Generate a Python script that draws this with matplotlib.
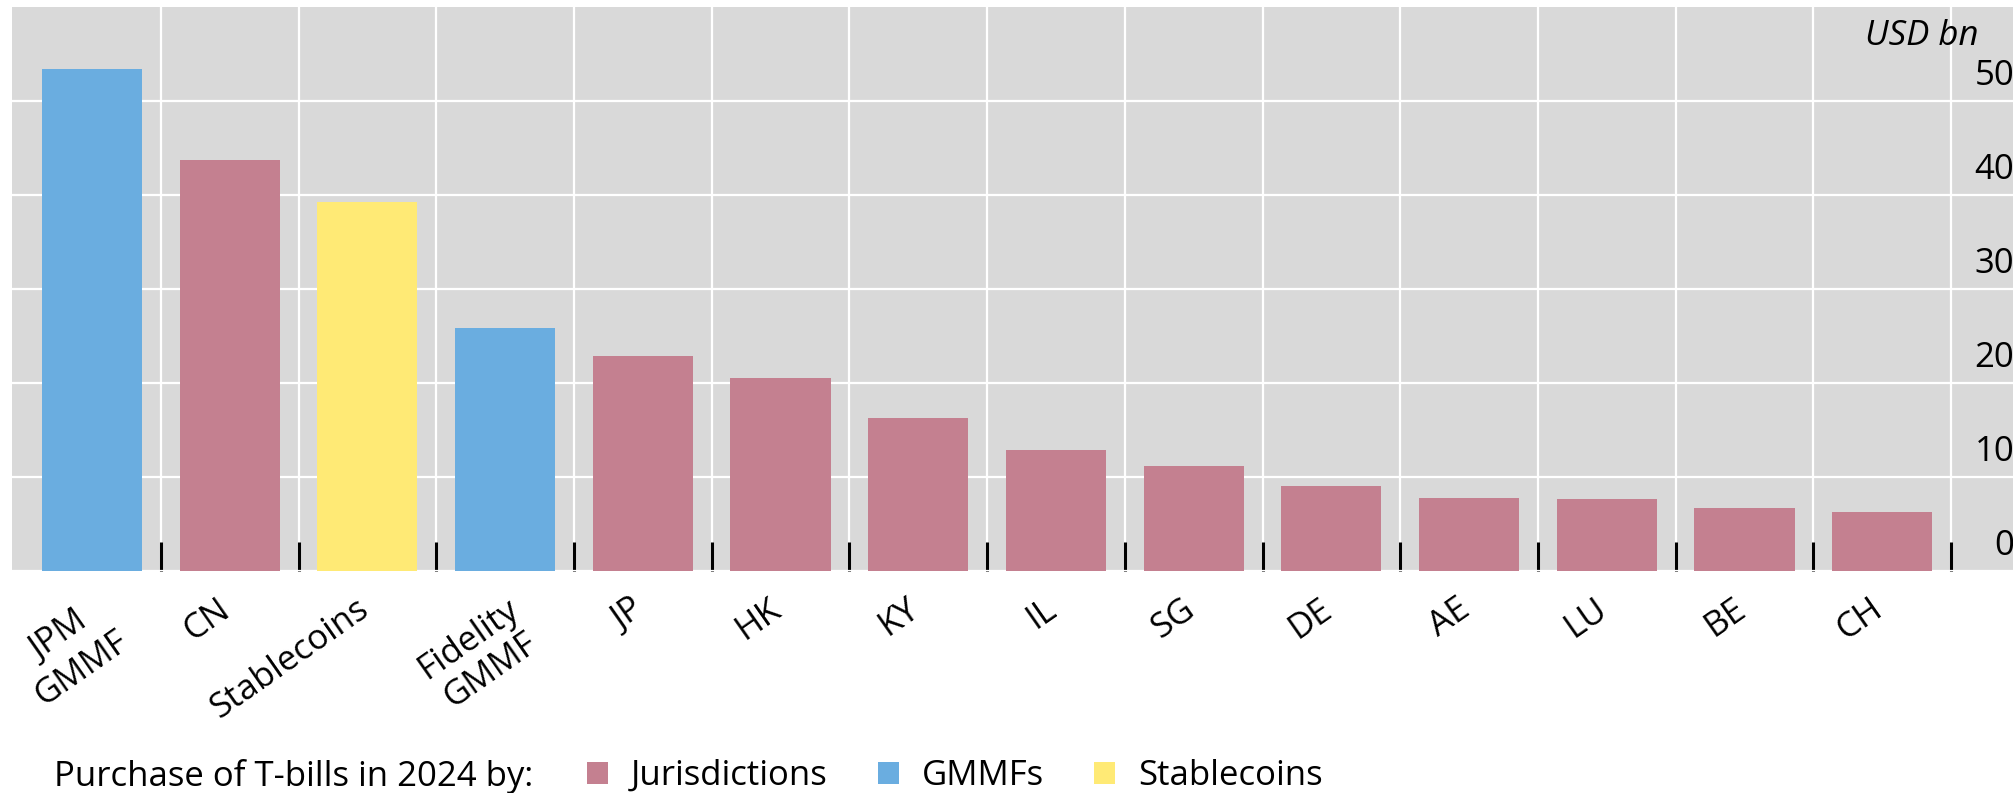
import numpy as np
import matplotlib.pyplot as plt
from matplotlib.patches import Patch
from matplotlib.transforms import ScaledTranslation

plt.rcParams['font.family'] = ['Open Sans', 'DejaVu Sans']

# Data (USD bn)
categories = ['JPM\nGMMF', 'CN', 'Stablecoins', 'Fidelity\nGMMF', 'JP', 'HK', 'KY',
              'IL', 'SG', 'DE', 'AE', 'LU', 'BE', 'CH']
groups = ['GMMFs', 'Jurisdictions', 'Stablecoins', 'GMMFs', 'Jurisdictions', 'Jurisdictions',
          'Jurisdictions', 'Jurisdictions', 'Jurisdictions', 'Jurisdictions', 'Jurisdictions',
          'Jurisdictions', 'Jurisdictions', 'Jurisdictions']
values = [53.4, 43.7, 39.3, 25.8, 22.9, 20.5, 16.3, 12.9, 11.2, 9.0, 7.8, 7.7, 6.7, 6.3]
y_ticks = [0, 10, 20, 30, 40, 50]
legend_order = ['Jurisdictions', 'GMMFs', 'Stablecoins']

COLORS = {'Jurisdictions': '#c48090', 'GMMFs': '#6aade0', 'Stablecoins': '#ffea75'}
BG = '#d9d9d9'
FS = 25

fig = plt.figure(figsize=(20.13, 7.93), dpi=100)
ax = fig.add_axes([12 / 2013, 222 / 793, 2001 / 2013, 564 / 793])
ax.set_facecolor(BG)

x = np.arange(len(categories))
ax.bar(x, values, width=0.727, color=[COLORS[g] for g in groups], zorder=3)

ax.set_xlim(-0.581, 13.95)
ax.set_ylim(0, 60)

# grid: horizontal at y ticks, vertical at category boundaries
ax.set_yticks(y_ticks)
ax.set_xticks(x)
ax.set_xticks(x + 0.5, minor=True)
ax.grid(axis='y', color='white', linewidth=1.6, zorder=1)
ax.grid(axis='x', which='minor', color='white', linewidth=1.6, zorder=1)
ax.set_axisbelow(True)

for s in ax.spines.values():
    s.set_visible(False)

# x axis: boundary ticks pointing in, rotated labels
ax.tick_params(axis='x', which='major', length=0, pad=15)
ax.tick_params(axis='x', which='minor', direction='in', length=21, width=2.2,
               color='black', bottom=True)
ax.set_xticklabels(categories, rotation=35, ha='right', va='top',
                   rotation_mode='anchor', fontsize=FS, multialignment='center')
for lab in ax.get_xticklabels():
    dx = 1 if '\n' in lab.get_text() else -12
    lab.set_transform(lab.get_transform() + ScaledTranslation(dx / 100, 0, fig.dpi_scale_trans))

# y axis: labels inside on the right, lifted above the grid lines
ax.yaxis.tick_right()
ax.tick_params(axis='y', length=0, pad=1, labelsize=FS)
for lab in ax.get_yticklabels():
    lab.set_horizontalalignment('right')
    lab.set_verticalalignment('center')
    lab.set_transform(lab.get_transform() + ScaledTranslation(0, 25 / 100, fig.dpi_scale_trans))

ax.text(0.983, 0.949, 'USD bn', transform=ax.transAxes, ha='right', va='center',
        fontsize=FS, style='italic')

# legend along the bottom
fig.text(54 / 2013, 17 / 793, 'Purchase of T-bills in 2024 by:', fontsize=FS,
         ha='left', va='center')
handles = [Patch(facecolor=COLORS[g], label=g) for g in legend_order]
fig.legend(handles=handles, loc='center left', bbox_to_anchor=(587 / 2013, 17 / 793),
           ncol=3, frameon=False, fontsize=FS, handlelength=0.6, handleheight=0.6,
           handletextpad=0.66, columnspacing=1.45, borderpad=0, borderaxespad=0)

fig.savefig('out.png', dpi=100)
